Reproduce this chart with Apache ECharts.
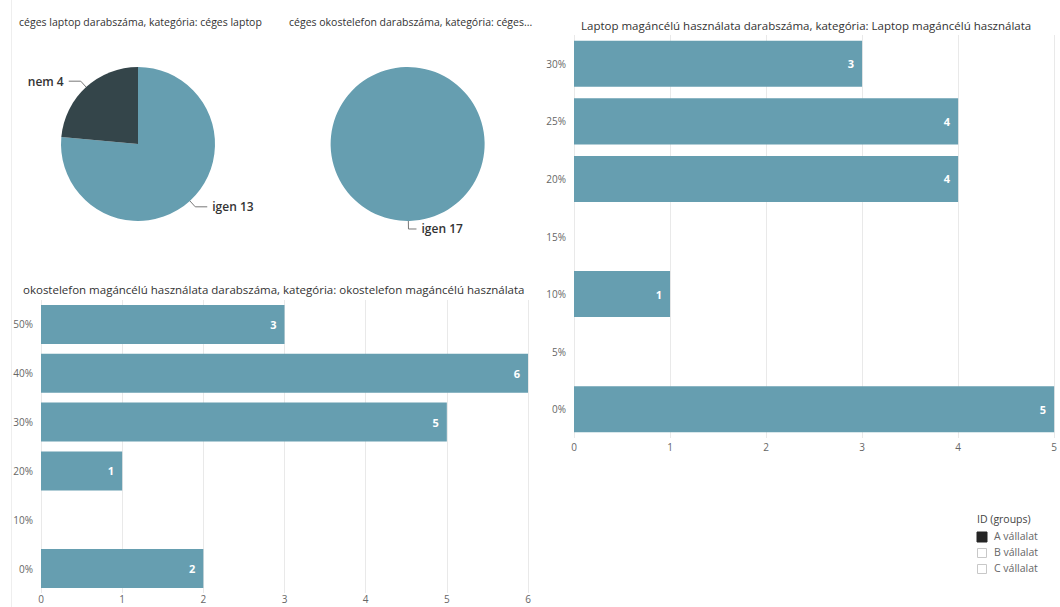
<!DOCTYPE html>
<html><head><meta charset="utf-8">
<script src="https://cdn.jsdelivr.net/npm/echarts@6/dist/echarts.min.js"></script>
<style>html,body{margin:0;padding:0;background:#fff}#c{width:1060px;height:607px}</style>
</head><body><div id="c"></div>
<script>
// ---- data ----
const pieLaptopNames = ['igen', 'nem'];
const pieLaptopValues = [13, 4];
const piePhoneNames = ['igen'];
const piePhoneValues = [17];

const laptopCats = ['0%', '5%', '10%', '15%', '20%', '25%', '30%'];
const laptopValues = [5, null, 1, null, 4, 4, 3];

const phoneCats = ['0%', '10%', '20%', '30%', '40%', '50%'];
const phoneValues = [2, null, 1, 5, 6, 3];

const legendTitle = 'ID (groups)';
const legendItems = ['A vállalat', 'B vállalat', 'C vállalat'];

const titles = [
  'céges laptop darabszáma, kategória: céges laptop',
  'céges okostelefon darabszáma, kategória: céges...',
  'Laptop magáncélú használata darabszáma, kategória: Laptop magáncélú használata',
  'okostelefon magáncélú használata darabszáma, kategória: okostelefon magáncélú használata'
];

// ---- style ----
const TEAL = '#669eb0';
const DARK = '#34454a';
const FONT = '"Open Sans", "Noto Sans", sans-serif';

const chart = echarts.init(document.getElementById('c'), null, {renderer: 'svg'});

function pieLabel() {
  return {
    show: true, position: 'outside', formatter: '{b} {c}',
    color: '#333', fontSize: 12, fontFamily: FONT, fontWeight: 600
  };
}

const axisLabelStyle = {color: '#666', fontSize: 10, fontFamily: FONT};

const option = {
  animation: false,
  title: [
    {text: titles[0], left: 14, top: 11, textStyle: {fontSize: 10.5, fontWeight: 'normal', color: '#333', fontFamily: FONT}},
    {text: titles[1], left: 284, top: 11, textStyle: {fontSize: 10.5, fontWeight: 'normal', color: '#333', fontFamily: FONT}},
    {text: titles[2], left: 576, top: 14, textStyle: {fontSize: 11.5, fontWeight: 'normal', color: '#333', fontFamily: FONT}},
    {text: titles[3], left: 18, top: 278, textStyle: {fontSize: 11.5, fontWeight: 'normal', color: '#333', fontFamily: FONT}}
  ],
  grid: [
    {left: 574, right: 2, top: 35, bottom: 169, containLabel: false},
    {left: 41, right: 532, top: 300, bottom: 14, containLabel: false}
  ],
  xAxis: [
    {gridIndex: 0, type: 'value', min: 0, max: 5, interval: 1,
     axisLine: {show: false}, axisTick: {show: false},
     splitLine: {lineStyle: {color: '#e9e9e9'}},
     axisLabel: Object.assign({margin: 4}, axisLabelStyle)},
    {gridIndex: 1, type: 'value', min: 0, max: 6, interval: 1,
     axisLine: {show: false}, axisTick: {show: false},
     splitLine: {lineStyle: {color: '#e9e9e9'}},
     axisLabel: Object.assign({margin: 1}, axisLabelStyle)}
  ],
  yAxis: [
    {gridIndex: 0, type: 'category', data: laptopCats,
     axisLine: {show: false}, axisTick: {show: false},
     axisLabel: Object.assign({margin: 8}, axisLabelStyle)},
    {gridIndex: 1, type: 'category', data: phoneCats,
     axisLine: {show: false}, axisTick: {show: false},
     axisLabel: Object.assign({margin: 8}, axisLabelStyle)}
  ],
  series: [
    {type: 'pie', center: [138, 144], radius: 77, startAngle: 90, clockwise: true,
     data: pieLaptopNames.map((n, i) => ({name: n, value: pieLaptopValues[i]})),
     color: [TEAL, DARK],
     label: pieLabel(),
     labelLine: {show: true, length: 8, length2: 12, lineStyle: {color: '#777', width: 1}},
     itemStyle: {borderWidth: 0}},
    {type: 'pie', center: [407, 144], radius: 77, startAngle: 91, clockwise: true,
     data: piePhoneNames.map((n, i) => ({name: n, value: piePhoneValues[i]})),
     color: [TEAL],
     label: pieLabel(),
     labelLine: {show: true, length: 8, length2: 8, lineStyle: {color: '#777', width: 1}},
     itemStyle: {borderWidth: 0}},
    {type: 'bar', xAxisIndex: 0, yAxisIndex: 0, data: laptopValues,
     barCategoryGap: '20%', itemStyle: {color: TEAL},
     label: {show: true, position: 'insideRight', color: '#fff', fontWeight: 'bold', fontSize: 11, fontFamily: FONT, distance: 8}},
    {type: 'bar', xAxisIndex: 1, yAxisIndex: 1, data: phoneValues,
     barCategoryGap: '20%', itemStyle: {color: TEAL},
     label: {show: true, position: 'insideRight', color: '#fff', fontWeight: 'bold', fontSize: 11, fontFamily: FONT, distance: 8}}
  ],
  graphic: [
    {type: 'line', shape: {x1: 11.5, y1: 0, x2: 11.5, y2: 607}, style: {stroke: '#eeeeee', lineWidth: 1}, silent: true},
    {type: 'text', left: 977, top: 513, style: {text: legendTitle, fill: '#444', fontSize: 10.5, fontFamily: FONT}},
    {type: 'rect', shape: {x: 977, y: 532, width: 10, height: 10}, style: {fill: '#252525', stroke: '#252525', lineWidth: 1}},
    {type: 'text', left: 994, top: 530, style: {text: legendItems[0], fill: '#666', fontSize: 10.5, fontFamily: FONT}},
    {type: 'rect', shape: {x: 977.5, y: 548.5, width: 9, height: 9}, style: {fill: '#fff', stroke: '#c8c8c8', lineWidth: 1}},
    {type: 'text', left: 994, top: 546, style: {text: legendItems[1], fill: '#666', fontSize: 10.5, fontFamily: FONT}},
    {type: 'rect', shape: {x: 977.5, y: 564.5, width: 9, height: 9}, style: {fill: '#fff', stroke: '#c8c8c8', lineWidth: 1}},
    {type: 'text', left: 994, top: 562, style: {text: legendItems[2], fill: '#666', fontSize: 10.5, fontFamily: FONT}}
  ]
};
chart.setOption(option);
</script></body></html>
